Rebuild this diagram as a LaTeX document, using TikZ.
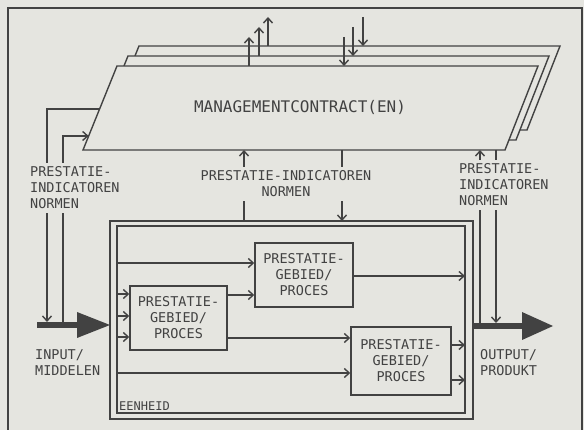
\documentclass[tikz,border=0pt]{standalone}
\usepackage{fontspec}
\setmonofont{DejaVu Sans Mono}
\usepackage{tikz}
\usetikzlibrary{arrows.meta,calc,positioning}
\definecolor{paper}{RGB}{229,229,224}
\definecolor{ink}{RGB}{66,66,66}
\newcommand{\plotfont}{\ttfamily\fontsize{13.5}{16}\selectfont}

\begin{document}
\begin{tikzpicture}[x=1pt,y=-1pt,
    wire/.style={draw=ink, line width=1.4pt},
    flow/.style={wire, -{Straight Barb[length=5pt,width=9pt]}},
    fat/.style={draw=ink, line width=6pt},
    proces/.style={wire, align=center, font=\plotfont, inner sep=0pt},
    unitbox/.style={wire, inner sep=0pt, outer sep=0pt},
    tag/.style={fill=paper, inner sep=4pt, font=\plotfont},
    every node/.style={text=ink}
    ]
    \useasboundingbox (0,0) rectangle (584,430);
    \fill[paper] (0,0) rectangle (584,430);
    \draw[wire] (8,431) -- (8,8) -- (582,8) -- (582,431);

    % stack of contracts, back to front
    \foreach \k in {2,1,0} {
        \coordinate (f\k-bl) at (83+11*\k, 150-10*\k);
        \coordinate (f\k-br) at (505+11*\k, 150-10*\k);
        \coordinate (f\k-tr) at (538+11*\k, 66-10*\k);
        \coordinate (f\k-tl) at (117+11*\k, 66-10*\k);
        \draw[wire, fill=paper] (f\k-bl) -- (f\k-br) -- (f\k-tr) -- (f\k-tl) -- cycle;
    }
    \node[font=\ttfamily\fontsize{16}{19}\selectfont] (mc) at (300,107) {MANAGEMENTCONTRACT(EN)};

    % arrows on top of each contract
    \foreach \k/\ux/\dx in {0/249/344,1/259/353,2/268/363} {
        \draw[flow] (\ux,0 |- f\k-tl) -- ++(0,-29);
        \draw[flow] ($(\dx,0 |- f\k-tl)+(0,-29)$) -- (\dx,0 |- f\k-tl);
    }

    % the unit with its processes
    \node[unitbox, minimum width=363pt, minimum height=198pt] (unit) at (291.5,320) {};
    \node[unitbox, minimum width=348pt, minimum height=187pt] (unitin) at (291,319.5) {};
    \node[proces, minimum width=97pt, minimum height=64pt] (proc1) at (178.5,318) {PRESTATIE-\\GEBIED/\\PROCES};
    \node[proces, minimum width=98pt, minimum height=64pt] (proc2) at (304,275) {PRESTATIE-\\GEBIED/\\PROCES};
    \node[proces, minimum width=100pt, minimum height=68pt] (proc3) at (401,361) {PRESTATIE-\\GEBIED/\\PROCES};
    \node[font=\ttfamily\fontsize{12}{14}\selectfont, inner sep=1pt, above right=1pt and 1pt of unitin.south west] (eenheid) {EENHEID};

    \draw[flow] (unitin.west |- 0,263) -- (proc2.west |- 0,263);
    \foreach \y in {294,316,337}
        \draw[flow] (unitin.west |- 0,\y) -- (proc1.west |- 0,\y);
    \draw[flow] (proc1.east |- 0,295) -- (proc2.west |- 0,295);
    \draw[flow] (proc1.east |- 0,338) -- (proc3.west |- 0,338);
    \draw[flow] (unitin.west |- 0,373) -- (proc3.west |- 0,373);
    \draw[flow] (proc2.east |- 0,276) -- (unitin.east |- 0,276);
    \foreach \y in {345,380}
        \draw[flow] (proc3.east |- 0,\y) -- (unitin.east |- 0,\y);

    % input and output
    \coordinate (input) at (37,325);
    \coordinate (output) at (553,326);
    \draw[fat] (input) -- (78,325);
    \fill[ink] (77,312) -- (unit.west |- input) -- (77,338) -- cycle;
    \draw[fat] (unit.east |- output) -- (523,326);
    \fill[ink] (522,312) -- (output) -- (522,340) -- cycle;

    % feedback to and from the contract
    \coordinate (i1) at (47,322);
    \coordinate (i2) at (63,325);
    \coordinate (o1) at (480,326);
    \coordinate (o2) at (496,323);
    \draw[flow] ($(f0-bl)!0.488!(f0-tl)$) -| (i1);
    \draw[flow] (i2) |- ($(f0-bl)!0.167!(f0-tl)$);
    \draw[flow] (o1) -- (o1 |- f0-bl);
    \draw[flow] (o2 |- f0-bl) -- (o2);
    \draw[flow] (244,0 |- unit.north) -- (244,0 |- f0-bl);
    \draw[flow] (342,0 |- f0-bl) -- (342,0 |- unit.north);

    % labels over the lines
    \node[tag, align=left, anchor=west] (normleft) at (26,188) {PRESTATIE-\\INDICATOREN\\NORMEN};
    \node[tag, align=center] (normmid) at (286,184) {PRESTATIE-INDICATOREN\\NORMEN};
    \node[tag, align=left, anchor=west] (normright) at (455,185) {PRESTATIE-\\INDICATOREN\\NORMEN};
    \node[tag, align=left, anchor=west] (inlabel) at (31,363) {INPUT/\\MIDDELEN};
    \node[tag, align=left, anchor=west] (outlabel) at (476,363) {OUTPUT/\\PRODUKT};
\end{tikzpicture}
\end{document}
